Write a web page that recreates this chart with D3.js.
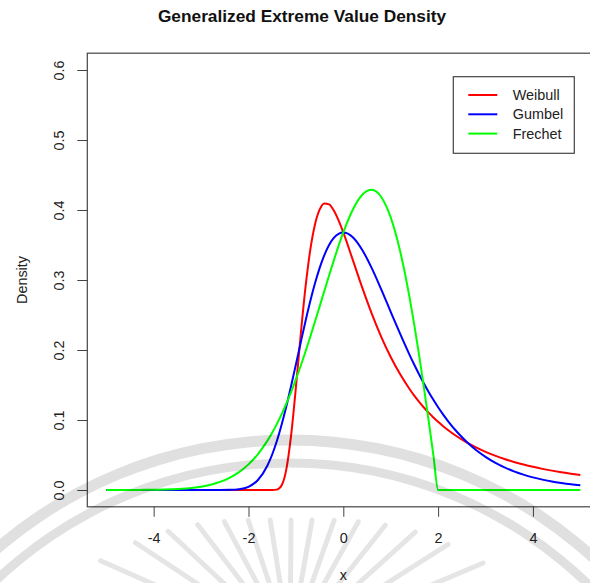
<!DOCTYPE html>
<html>
<head>
<meta charset="utf-8">
<script src="https://cdn.jsdelivr.net/npm/d3@7"></script>
<style>
  body { margin: 0; background: #fff; }
  svg { display: block; font-family: "Liberation Sans", Arial, sans-serif; }
</style>
</head>
<body>
<svg id="chart" width="590" height="583"></svg>
<script>
// x grid where the densities were read
var xs = [-5, -4.8, -4.6, -4.4, -4.2, -4, -3.8, -3.6, -3.4, -3.2, -3, -2.8, -2.6, -2.4, -2.2, -2, -1.8, -1.6,
          -1.5, -1.4, -1.3, -1.2, -1.1, -1, -0.9, -0.8, -0.7, -0.6, -0.5, -0.4, -0.3, -0.2, -0.1, 0,
          0.2, 0.4, 0.6, 0.8, 1, 1.2, 1.4, 1.5, 1.6, 1.7, 1.8, 1.9, 2, 2.1,
          2.2, 2.4, 2.6, 2.8, 3, 3.2, 3.4, 3.6, 3.8, 4, 4.2, 4.4, 4.6, 4.8, 5];

var weibull = [0, 0, 0, 0, 0, 0, 0, 0, 0, 0, 0, 0, 0, 0, 0, 0, 0, 0,
               0.00001, 0.00055, 0.0067, 0.0302, 0.0787, 0.1465, 0.2205, 0.2879, 0.3415, 0.3787, 0.4005, 0.4094, 0.4081, 0.3992, 0.3851, 0.3679,
               0.3288, 0.2890, 0.2519, 0.2188, 0.1900, 0.1652, 0.1440, 0.1346, 0.1260, 0.1179, 0.1105, 0.1037, 0.0974, 0.0915,
               0.0861, 0.0764, 0.0680, 0.0608, 0.0545, 0.0491, 0.0443, 0.0401, 0.0364, 0.0331, 0.0302, 0.0277, 0.0254, 0.0233, 0.0215];

var gumbel = [0, 0, 0, 0, 0, 0, 0, 0, 0, 0, 0, 0.000001, 0.00002, 0.00018, 0.0011, 0.0046, 0.0143, 0.0350,
              0.0507, 0.0703, 0.0936, 0.1200, 0.1490, 0.1794, 0.2101, 0.2404, 0.2689, 0.2946, 0.3170, 0.3356, 0.3500, 0.3601, 0.3660, 0.3679,
              0.3611, 0.3429, 0.3170, 0.2867, 0.2546, 0.2229, 0.1927, 0.1785, 0.1650, 0.1522, 0.1401, 0.1288, 0.1182, 0.1084,
              0.0992, 0.0828, 0.0690, 0.0572, 0.0474, 0.0391, 0.0323, 0.0266, 0.0219, 0.0180, 0.0148, 0.0121, 0.0100, 0.0082, 0.0067];

var frechet = [0.00002, 0.00003, 0.00006, 0.00011, 0.00021, 0.00037, 0.00065, 0.0011, 0.0018, 0.0030, 0.0048, 0.0076, 0.0116, 0.0174, 0.0255, 0.0366, 0.0514, 0.0705,
               0.0818, 0.0945, 0.1084, 0.1237, 0.1403, 0.1581, 0.1771, 0.1972, 0.2182, 0.2399, 0.2620, 0.2843, 0.3065, 0.3280, 0.3487, 0.3679,
               0.4004, 0.4218, 0.4288, 0.4186, 0.3894, 0.3409, 0.2742, 0.2349, 0.1922, 0.1467, 0.0990, 0.0499, 0, 0,
               0, 0, 0, 0, 0, 0, 0, 0, 0, 0, 0, 0, 0, 0, 0];

var seriesNames = ["Weibull", "Gumbel", "Frechet"];
var seriesColors = ["#ff0000", "#0000ff", "#00ff00"];
var xTicks = [-4, -2, 0, 2, 4];
var yTicks = [0, 0.1, 0.2, 0.3, 0.4, 0.5, 0.6];

var svg = d3.select("#chart");

// R style: data range padded by 4% on each side
var x = d3.scaleLinear().domain([-5.4, 5.4]).range([87.3, 599.3]);
var y = d3.scaleLinear().domain([-0.024, 0.624]).range([506.8, 53.2]);

var line = d3.line()
    .x(function(d) { return x(d[0]); })
    .y(function(d) { return y(d[1]); })
    .curve(d3.curveMonotoneX);

var allSeries = [weibull, gumbel, frechet];
allSeries.forEach(function(vals, i) {
    svg.append("path")
        .datum(xs.map(function(v, j) { return [v, vals[j]]; }))
        .attr("fill", "none")
        .attr("stroke", seriesColors[i])
        .attr("stroke-width", 2)
        .attr("stroke-linejoin", "round")
        .attr("d", line);
});

// box
svg.append("rect")
    .attr("x", x.range()[0]).attr("y", y.range()[1])
    .attr("width", x.range()[1] - x.range()[0])
    .attr("height", y.range()[0] - y.range()[1])
    .attr("fill", "none").attr("stroke", "#444").attr("stroke-width", 1.2);

// x axis
var gx = svg.append("g")
    .attr("transform", "translate(0," + y.range()[0] + ")")
    .call(d3.axisBottom(x).tickValues(xTicks).tickSize(10).tickFormat(function(d) { return d; }));
gx.select(".domain").remove();
gx.selectAll("line").attr("stroke", "#444");
gx.selectAll("text").attr("y", 36).attr("dy", null)
    .attr("fill", "#222").style("font-size", "14.4px").style("font-family", "Liberation Sans, Arial, sans-serif")
    .text(function(d) { return d < 0 ? "-" + Math.abs(d) : d; });

// y axis
var gy = svg.append("g")
    .attr("transform", "translate(" + x.range()[0] + ",0)")
    .call(d3.axisLeft(y).tickValues(yTicks).tickSize(10).tickFormat(d3.format(".1f")));
gy.select(".domain").remove();
gy.selectAll("line").attr("stroke", "#444");
gy.selectAll("text")
    .attr("x", null).attr("dy", null)
    .attr("text-anchor", "middle")
    .attr("transform", "translate(-23,0) rotate(-90)")
    .attr("fill", "#222").style("font-size", "14.4px").style("font-family", "Liberation Sans, Arial, sans-serif");

// titles
svg.append("text")
    .attr("x", 302).attr("y", 22)
    .attr("text-anchor", "middle")
    .style("font-size", "17.3px").style("font-weight", "bold")
    .attr("fill", "#111")
    .text("Generalized Extreme Value Density");

svg.append("text")
    .attr("x", 343.3).attr("y", 580)
    .attr("text-anchor", "middle")
    .style("font-size", "14.4px").attr("fill", "#222")
    .text("x");

svg.append("text")
    .attr("transform", "translate(27,280) rotate(-90)")
    .attr("text-anchor", "middle")
    .style("font-size", "14.4px").attr("fill", "#222")
    .text("Density");

// legend
var legend = svg.append("g").attr("transform", "translate(453.3,76.7)");
legend.append("rect")
    .attr("width", 121).attr("height", 76.6)
    .attr("fill", "#fff").attr("stroke", "#444").attr("stroke-width", 1.2);
seriesNames.forEach(function(name, i) {
    var ly = 18.3 + i * 19.3;
    legend.append("line")
        .attr("x1", 15).attr("x2", 44).attr("y1", ly).attr("y2", ly)
        .attr("stroke", seriesColors[i]).attr("stroke-width", 2);
    legend.append("text")
        .attr("x", 59.4).attr("y", ly).attr("dy", "0.36em")
        .style("font-size", "14.4px").attr("fill", "#222")
        .text(name);
});

// faint watermark over the lower part of the picture
var wm = svg.append("g").attr("pointer-events", "none");
var arc = d3.arc();
[[450, 11], [427, 9]].forEach(function(a) {
    wm.append("path")
        .attr("transform", "translate(290,890)")
        .attr("d", arc({innerRadius: a[0] - a[1] / 2, outerRadius: a[0] + a[1] / 2,
                        startAngle: -Math.PI / 2, endAngle: Math.PI / 2}))
        .attr("fill", "#000").attr("fill-opacity", 0.12);
});
d3.range(-66, 75, 9.5).forEach(function(deg) {
    var t = deg * Math.PI / 180,
        r = 125 + 75 * Math.pow(deg / 63, 2),
        cx = 290, cy = 645;
    wm.append("line")
        .attr("x1", cx + r * Math.sin(t)).attr("y1", cy - r * Math.cos(t))
        .attr("x2", cx + (r - 80) * Math.sin(t)).attr("y2", cy - (r - 80) * Math.cos(t))
        .attr("stroke", "#000").attr("stroke-opacity", 0.1)
        .attr("stroke-width", 5).attr("stroke-linecap", "round");
});
</script>
</body>
</html>
